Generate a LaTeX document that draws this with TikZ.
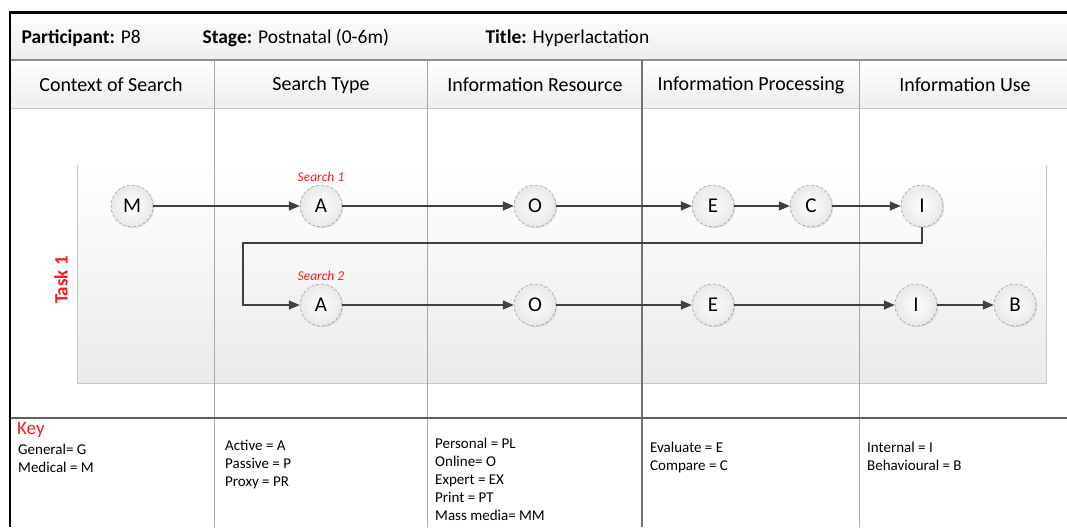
\documentclass[tikz,border=0pt]{standalone}
\usepackage{fontspec}
\setmainfont{Carlito}
\usetikzlibrary{arrows.meta,shadows,positioning}
\definecolor{arrowgray}{HTML}{404040}
\definecolor{gridgray}{HTML}{A8A8A8}
\definecolor{keyred}{HTML}{FF1A1A}
\tikzset{
  stepnode/.style={circle,minimum size=42pt,inner sep=0pt,draw=gray!80,densely dashed,line width=0.5pt,
    inner color=white,outer color=black!9,
    drop shadow={opacity=0.22,shadow xshift=1.2pt,shadow yshift=-1.2pt},
    font=\fontsize{21}{21}\selectfont},
  flow/.style={draw=arrowgray,line width=1.4pt,-{Triangle[length=11pt,width=9pt]}},
  colline/.style={draw=gridgray,line width=1pt},
  headtext/.style={font=\fontsize{20}{20}\selectfont,anchor=center},
  titletext/.style={font=\fontsize{19.5}{19.5}\selectfont,anchor=west},
  % multi-line key entries sit on the baseline of their last line
  keytext/.style={font=\fontsize{15}{18}\selectfont,anchor=base west,align=left,inner sep=0pt},
  searchlabel/.style={font=\fontsize{13.5}{13.5}\selectfont\itshape,text=keyred},
}
\begin{document}
\begin{tikzpicture}[x=1pt,y=-1pt]
\useasboundingbox (0,0) rectangle (1067,527);
\fill[white] (0,0) rectangle (1067,527);

% title and header bands
\shade[top color=white,bottom color=black!7] (10,13) rectangle (1067,60);
\shade[top color=white,bottom color=black!7] (10,60) rectangle (1067,108);
\draw[draw=black!45,line width=1.3pt] (10,60) -- (1067,60);
\draw[draw=black!22,line width=1pt] (10,108) -- (1067,108);

% task lane
\shade[top color=white,bottom color=black!8] (77,165) rectangle (1046,383);
\draw[draw=black!22,line width=1pt] (77,165) -- (77,383) -- (1046,383) -- (1046,165);

% column separators
\foreach \cx in {214,427,642,859}{
  \draw[colline] (\cx,60) -- (\cx,527);
}
\draw[draw=black!55,line width=1.1pt] (642,60) -- (642,527);

% separator above the key
\draw[draw=black!62,line width=1.3pt] (10,418) -- (1067,418);

% outer frame
\draw[black,line width=2.6pt] (10,527) -- (10,12.5) -- (1067,12.5);

% title row
\node[titletext] (tpart) at (18,38) {\textbf{Participant:} P8};
\node[titletext] (tstage) at (199,38) {\textbf{Stage:} Postnatal (0-6m)};
\node[titletext] (ttitle) at (482,38) {\textbf{Title:} Hyperlactation};

% column headings
\node[headtext] (h1) at (111,85) {Context of Search};
\node[headtext] (h2) at (321,85) {Search Type};
\node[headtext] (h3) at (535,85) {Information Resource};
\node[headtext] (h4) at (751,85) {Information Processing};
\node[headtext] (h5) at (965,85) {Information Use};

% lane label
\node[rotate=90,text=keyred,font=\fontsize{19}{19}\selectfont\bfseries] (task) at (61,280) {Task 1};

% first search
\node[stepnode] (m1) at (132,206) {M};
\node[stepnode] (a1) at (321,206) {A};
\node[stepnode] (o1) at (535,206) {O};
\node[stepnode] (e1) at (713,206) {E};
\node[stepnode] (c1) at (811,206) {C};
\node[stepnode] (i1) at (922,206) {I};
\node[searchlabel,above=0pt of a1] (s1) {Search 1};

% second search
\node[stepnode] (a2) at (321,305) {A};
\node[stepnode] (o2) at (535,305) {O};
\node[stepnode] (e2) at (713,305) {E};
\node[stepnode] (i2) at (916,305) {I};
\node[stepnode] (b2) at (1015,305) {B};
\node[searchlabel,above=0pt of a2] (s2) {Search 2};

\coordinate (loop) at (243,243);

\draw[flow] (m1) -- (a1);
\draw[flow] (a1) -- (o1);
\draw[flow] (o1) -- (e1);
\draw[flow] (e1) -- (c1);
\draw[flow] (c1) -- (i1);
\draw[flow] (i1.south) |- (loop) |- (a2.west);
\draw[flow] (a2) -- (o2);
\draw[flow] (o2) -- (e2);
\draw[flow] (e2) -- (i2);
\draw[flow] (i2) -- (b2);

% key
\node[anchor=base west,inner sep=0pt,text=keyred,font=\fontsize{19}{19}\selectfont] (keyt) at (17,434) {Key};
\node[keytext] (k1) at (18,472) {General= G\\Medical = M};
\node[keytext] (k2) at (225,486) {Active = A\\Passive = P\\Proxy = PR};
\node[keytext] (k3) at (435,520) {Personal = PL\\Online= O\\Expert = EX\\Print = PT\\Mass media= MM};
\node[keytext] (k4) at (650,470) {Evaluate = E\\Compare = C};
\node[keytext] (k5) at (867,470) {Internal = I\\Behavioural = B};
\end{tikzpicture}
\end{document}
